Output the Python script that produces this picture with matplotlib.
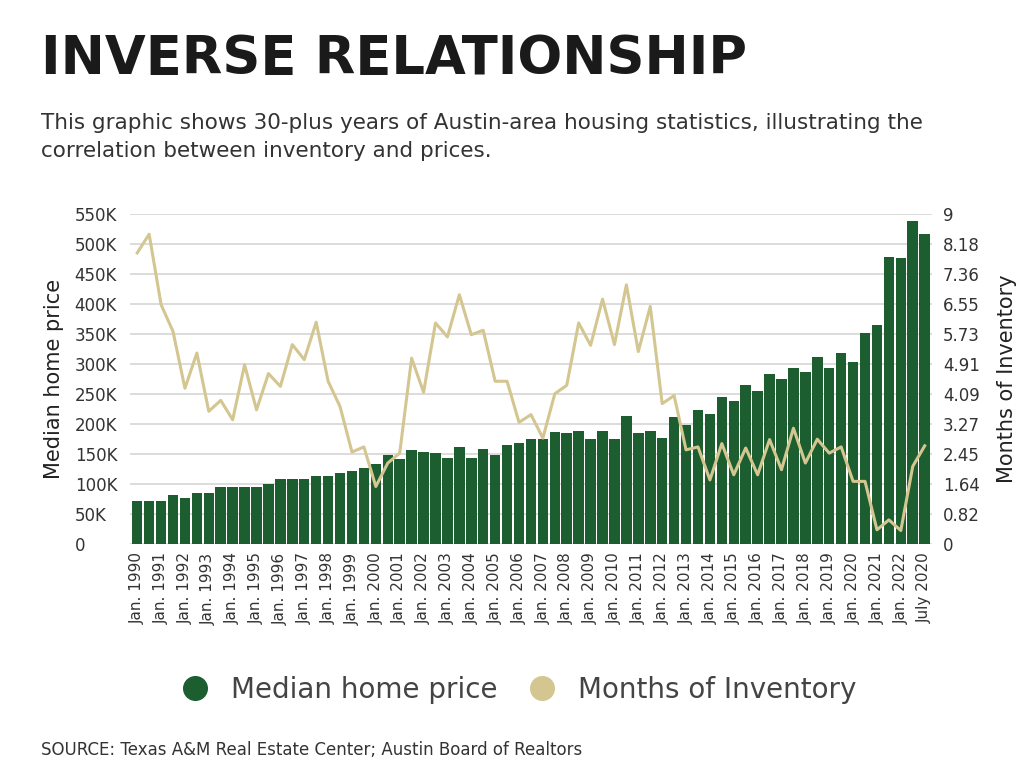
import numpy as np
import matplotlib.pyplot as plt

# Median home price (thousands of dollars), half-year steps from Jan. 1990
price_k = [72, 72, 72, 82, 77, 85, 85, 95, 95, 95, 95, 100, 109, 109, 109, 114, 114,
           118, 121, 127, 133, 148, 141, 156, 153, 151, 143, 161, 143, 158, 148, 165,
           168, 175, 175, 187, 185, 189, 175, 189, 175, 214, 185, 189, 177, 212, 199,
           224, 216, 245, 238, 265, 255, 283, 275, 294, 287, 312, 294, 319, 304, 351,
           365, 479, 477, 538, 517]
# Months of inventory
months = [7.94, 8.45, 6.53, 5.8, 4.25, 5.21, 3.62, 3.92, 3.39, 4.89, 3.66, 4.65, 4.3,
          5.44, 5.03, 6.05, 4.44, 3.75, 2.51, 2.65, 1.57, 2.21, 2.48, 5.07, 4.14, 6.03,
          5.65, 6.8, 5.71, 5.83, 4.44, 4.44, 3.32, 3.53, 2.89, 4.1, 4.33, 6.03, 5.42,
          6.68, 5.44, 7.07, 5.25, 6.48, 3.83, 4.05, 2.57, 2.65, 1.75, 2.74, 1.89, 2.62,
          1.89, 2.85, 2.03, 3.16, 2.21, 2.86, 2.48, 2.65, 1.71, 1.71, 0.39, 0.66, 0.37,
          2.12, 2.68]
tick_labels = ["Jan. %d" % y for y in range(1990, 2023)] + ["July 2020"]
left_ticks = list(range(0, 551, 50))
left_labels = ["0"] + ["%dK" % v for v in left_ticks[1:]]
right_labels = ["0", "0.82", "1.64", "2.45", "3.27", "4.09", "4.91", "5.73", "6.55", "7.36", "8.18", "9"]

GREEN = "#1c5e2f"
GOLD = "#d4c690"
TXT = "#333333"

x = np.arange(len(price_k))
fig = plt.figure(figsize=(10.24, 7.84), dpi=100)
ax = fig.add_axes([0.127, 0.306, 0.783, 0.421])
ax.bar(x, price_k, width=0.88, color=GREEN, zorder=2)
ax.set_ylim(0, 550)
ax.set_xlim(-0.6, len(x) - 0.4)
ax.set_yticks(left_ticks)
ax.set_yticklabels(left_labels)
ax.grid(axis="y", color="#d5d5d5", linewidth=1.2, zorder=0)
ax.set_xticks(x[::2])
ax.set_xticklabels(tick_labels, rotation=90)
ax.tick_params(axis="x", length=0, labelsize=11, labelcolor=TXT, pad=6)
ax.tick_params(axis="y", length=0, labelsize=12, labelcolor=TXT, pad=0)
for lab in ax.get_yticklabels():
    lab.set_horizontalalignment("left")
    lab.set_x(-0.069)
ax.set_ylabel("Median home price", fontsize=15, color="#222222", labelpad=8)
for s in ax.spines.values():
    s.set_visible(False)

ax2 = ax.twinx()
ax2.plot(x, months, color=GOLD, linewidth=2.2, zorder=3)
ax2.set_ylim(0, 9)
ax2.set_yticks(np.linspace(0, 9, 12))
ax2.set_yticklabels(right_labels)
ax2.tick_params(axis="y", length=0, labelsize=12, labelcolor=TXT, pad=8)
ax2.set_ylabel("Months of Inventory", fontsize=15, color="#222222", labelpad=12)
for s in ax2.spines.values():
    s.set_visible(False)

fig.text(0.04, 0.905, "INVERSE RELATIONSHIP", fontsize=38, fontweight="bold",
         family=["Liberation Sans Narrow", "DejaVu Sans Condensed", "DejaVu Sans"],
         color="#1a1a1a")
fig.text(0.04, 0.80, "This graphic shows 30-plus years of Austin-area housing statistics, illustrating the\n"
         "correlation between inventory and prices.", fontsize=15.5, color="#333333", linespacing=1.5)

h1 = plt.Line2D([], [], marker="o", linestyle="", color=GREEN, markersize=17)
h2 = plt.Line2D([], [], marker="o", linestyle="", color=GOLD, markersize=17)
fig.legend([h1, h2], ["Median home price", "Months of Inventory"], loc="center",
           bbox_to_anchor=(0.5, 0.12), ncol=2, frameon=False, fontsize=20,
           handletextpad=0.3, columnspacing=0.6, labelcolor="#444444")
fig.text(0.04, 0.037, "SOURCE: Texas A&M Real Estate Center; Austin Board of Realtors",
         fontsize=12, color="#333333")

fig.savefig("out.png", dpi=100)
